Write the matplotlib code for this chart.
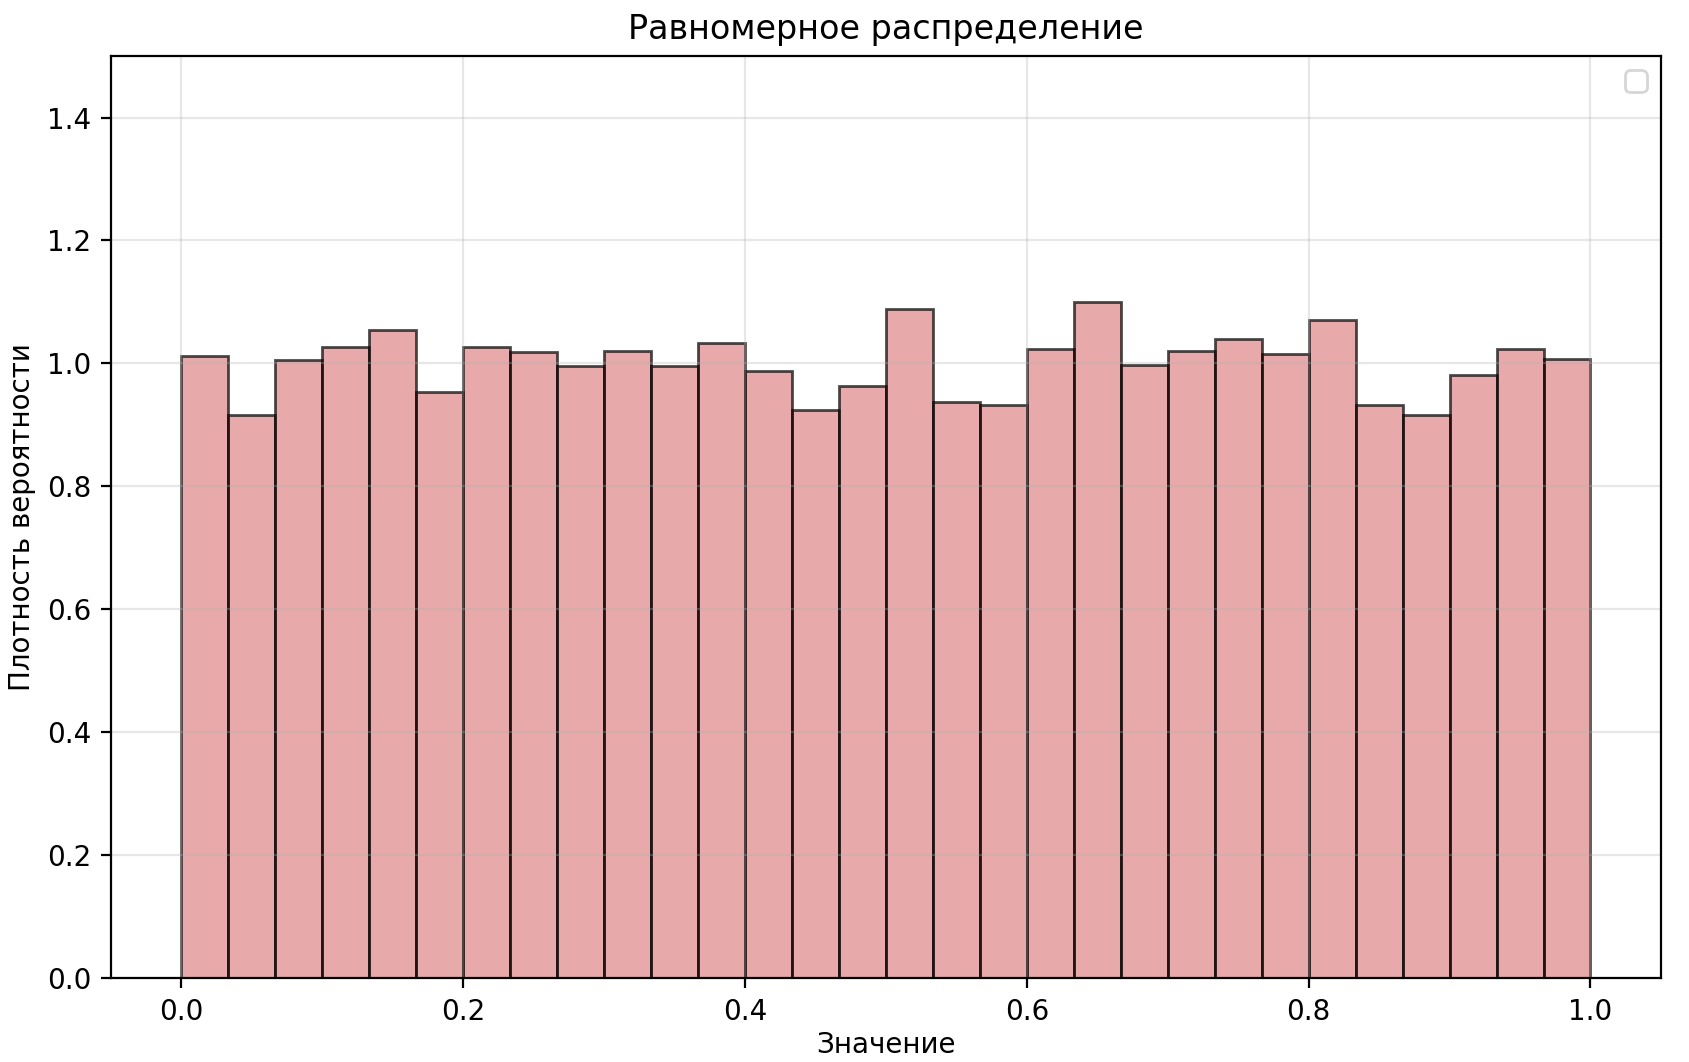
import numpy as np
import matplotlib
matplotlib.use('Agg')
import matplotlib.pyplot as plt

# density values per bin (30 bins on [0, 1])
bin_edges = np.linspace(0.0, 1.0, 31)
density = [1.012, 0.916, 1.005, 1.026, 1.054, 0.953, 1.026, 1.019, 0.996, 1.021,
           0.995, 1.033, 0.988, 0.925, 0.963, 1.089, 0.937, 0.933, 1.024, 1.100,
           0.998, 1.021, 1.040, 1.016, 1.070, 0.933, 0.916, 0.981, 1.023, 1.007]

fig, ax = plt.subplots(figsize=(8.45, 5.31), dpi=200)
centers = (bin_edges[:-1] + bin_edges[1:]) / 2
ax.hist(centers, bins=bin_edges, weights=density,
        facecolor=(209/255, 84/255, 84/255, 0.5),
        edgecolor=(0, 0, 0, 0.7), linewidth=1.0)

ax.set_ylim(0, 1.5)
ax.set_title('Равномерное распределение')
ax.set_xlabel('Значение', labelpad=2)
ax.set_ylabel('Плотность вероятности')
ax.grid(True, alpha=0.3)
ax.legend()
fig.subplots_adjust(left=0.0657, right=0.9828, top=0.9472, bottom=0.079)
plt.savefig('out.png')
